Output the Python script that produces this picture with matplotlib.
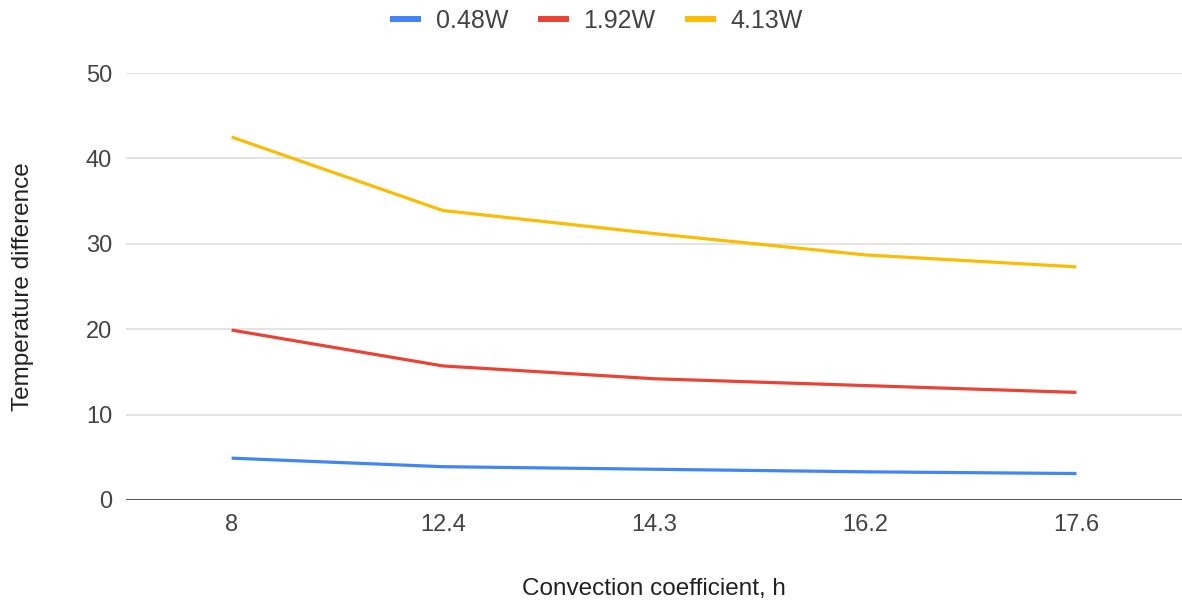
import matplotlib
matplotlib.use("Agg")
import matplotlib.pyplot as plt
from matplotlib.lines import Line2D

categories = ["8", "12.4", "14.3", "16.2", "17.6"]
series_names = ["0.48W", "1.92W", "4.13W"]
values_048 = [4.9, 3.9, 3.6, 3.3, 3.1]
values_192 = [19.9, 15.7, 14.2, 13.4, 12.6]
values_413 = [42.5, 33.9, 31.2, 28.7, 27.3]
y_ticks = [0, 10, 20, 30, 40, 50]

colors = ["#4285F4", "#EA4335", "#FBBC04"]
plt.rcParams["font.family"] = ["Liberation Sans", "DejaVu Sans"]

fig = plt.figure(figsize=(11.82, 6.04), dpi=100)
ax = fig.add_axes([126 / 1182, 104 / 604, 1056 / 1182, 427 / 604])

x = list(range(len(categories)))
for vals, c, name in zip([values_048, values_192, values_413], colors, series_names):
    ax.plot(x, vals, color=c, lw=2.3, solid_capstyle="butt", label=name, zorder=3)

ax.set_xlim(-0.5, len(categories) - 0.5)
ax.set_ylim(0, 50)
ax.set_yticks(y_ticks)
ax.set_xticks(x)
ax.set_xticklabels(categories)
ax.grid(axis="y", color="#e0e0e0", lw=1.3, zorder=0)
ax.axhline(0, color="#444444", lw=1.3, zorder=2)
for s in ax.spines.values():
    s.set_visible(False)
ax.tick_params(axis="both", length=0, colors="#444444", labelsize=17)
ax.tick_params(axis="y", pad=10)
ax.tick_params(axis="x", pad=10)

ax.set_xlabel("Convection coefficient, h", fontsize=17.5, color="#222222", labelpad=30)
ax.set_ylabel("Temperature difference", fontsize=17.5, color="#222222", labelpad=37)

handles = [Line2D([0], [0], color=c, lw=4.3) for c in colors]
fig.legend(handles, series_names, loc="center", bbox_to_anchor=(598 / 1182, 1 - 21 / 604),
           ncol=3, frameon=False, fontsize=18, handlelength=1.0, columnspacing=1.3,
           handletextpad=0.7, labelcolor="#444444", borderaxespad=0, borderpad=0)

fig.savefig("out.png", dpi=100)
